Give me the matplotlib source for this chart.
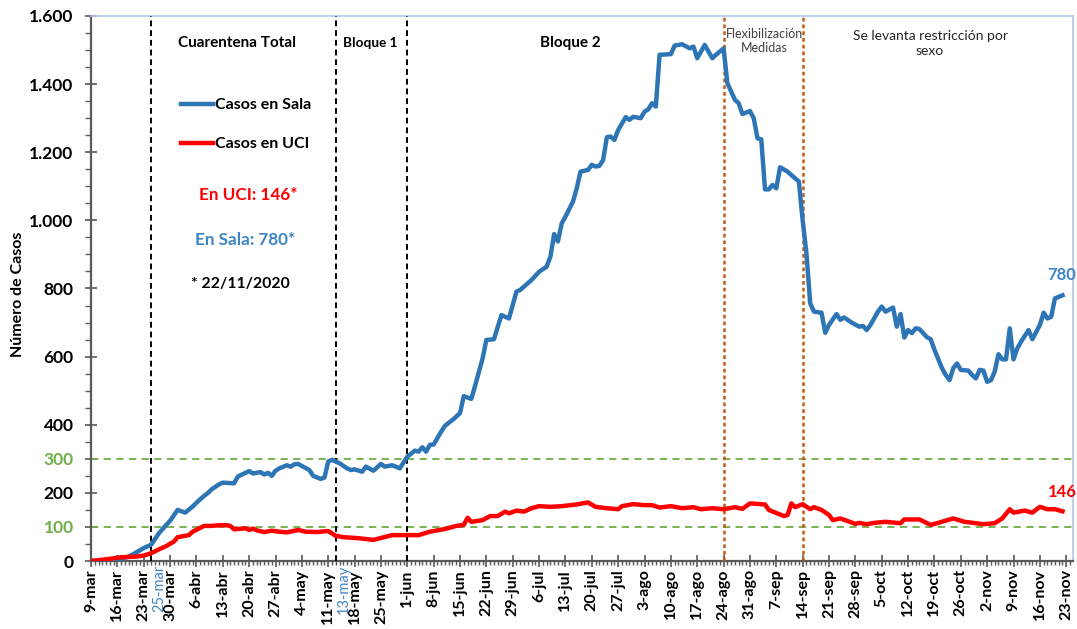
import numpy as np
import pandas as pd
import matplotlib
matplotlib.use('Agg')
import matplotlib.pyplot as plt
import matplotlib.dates as mdates
from matplotlib.ticker import FixedLocator, MultipleLocator

plt.rcParams['font.family'] = ['Lato', 'DejaVu Sans']

# datos (dias desde el 9-mar-2020)
inicio = pd.Timestamp('2020-03-09')
sala_dias = [0, 4, 8, 10, 12, 14, 16, 18, 20, 21, 23, 25, 27, 28, 30, 31, 32, 34, 35, 38, 39, 42, 43, 45, 46, 47, 48, 49,
             50, 52, 53, 54, 55, 56, 58, 59, 61, 62, 63, 64, 66, 68, 69, 70, 72, 73, 75, 77, 78, 80, 82, 84, 86, 87, 88,
             89, 90, 91, 93, 94, 96, 98, 99, 101, 102, 104, 105, 107, 109, 111, 113, 114, 117, 119, 121, 122, 123, 124,
             125, 126, 128, 129, 130, 132, 133, 134, 135, 136, 137, 138, 139, 140, 142, 143, 144, 146, 147, 148, 149,
             150, 151, 154, 155, 157, 159, 160, 161, 163, 165, 166, 168, 169, 171, 172, 173, 175, 176, 177, 178, 179,
             180, 181, 182, 183, 185, 186, 188, 189, 190, 191, 192, 194, 195, 196, 198, 199, 200, 202, 204, 205, 206,
             207, 209, 210, 211, 213, 214, 215, 216, 217, 218, 219, 220, 222, 223, 224, 226, 227, 228, 229, 230, 231,
             233, 234, 235, 236, 237, 238, 239, 240, 241, 242, 243, 244, 245, 246, 247, 248, 249, 250, 252, 253, 254,
             255, 256, 258]
sala_casos = [0, 2, 6, 13, 25, 38, 48, 81, 106, 118, 150, 142, 160, 171, 191, 199, 210, 225, 230, 228, 248, 264, 257,
              261, 254, 259, 250, 265, 272, 281, 277, 284, 285, 279, 267, 250, 241, 245, 292, 297, 287, 272, 267, 269,
              262, 277, 265, 285, 277, 281, 272, 306, 324, 321, 334, 321, 341, 342, 380, 397, 414, 434, 484, 476, 514,
              595, 649, 651, 722, 712, 791, 796, 825, 849, 864, 893, 960, 938, 991, 1011, 1055, 1094, 1143, 1148, 1163,
              1158, 1160, 1177, 1244, 1246, 1236, 1265, 1303, 1295, 1304, 1300, 1319, 1326, 1344, 1334, 1486, 1488,
              1513, 1517, 1505, 1510, 1476, 1515, 1476, 1486, 1505, 1403, 1354, 1344, 1312, 1321, 1300, 1241, 1238,
              1091, 1091, 1104, 1094, 1156, 1143, 1133, 1114, 1000, 903, 757, 732, 729, 670, 693, 725, 708, 715, 700,
              688, 690, 678, 693, 732, 747, 732, 744, 688, 725, 656, 678, 669, 683, 681, 657, 651, 620, 566, 546, 531,
              566, 580, 561, 559, 546, 536, 561, 559, 526, 531, 556, 607, 592, 592, 683, 592, 624, 644, 661, 678, 651,
              693, 729, 712, 717, 771, 780]
uci_dias = [0, 4, 8, 12, 14, 16, 18, 20, 22, 23, 26, 27, 30, 32, 34, 36, 37, 38, 41, 42, 43, 44, 46, 48, 50, 52, 55,
            57, 60, 63, 65, 67, 71, 75, 80, 84, 87, 90, 94, 97, 99, 100, 101, 104, 106, 108, 110, 111, 113, 115, 117,
            119, 122, 125, 129, 132, 134, 137, 140, 141, 144, 147, 149, 151, 154, 157, 160, 162, 165, 168, 171, 173,
            175, 179, 180, 184, 185, 186, 187, 189, 191, 192, 194, 196, 197, 199, 203, 204, 206, 208, 211, 215, 216,
            220, 223, 225, 229, 232, 235, 237, 240, 242, 244, 245, 248, 250, 252, 254, 256, 258]
uci_casos = [0, 5, 11, 13, 16, 23, 34, 44, 57, 70, 76, 86, 103, 103, 105, 105, 103, 93, 96, 91, 95, 90, 85, 89, 86, 84,
             91, 86, 85, 88, 74, 70, 67, 62, 76, 76, 76, 86, 94, 103, 106, 127, 115, 120, 132, 132, 145, 140, 148, 145,
             155, 161, 159, 161, 166, 172, 159, 155, 152, 161, 167, 164, 164, 157, 161, 155, 158, 152, 155, 152, 158,
             153, 169, 166, 150, 132, 135, 169, 158, 167, 152, 158, 150, 135, 120, 125, 109, 112, 108, 112, 115, 111,
             122, 122, 106, 112, 125, 115, 111, 108, 111, 125, 152, 142, 148, 142, 159, 152, 152, 146]

meses = {3: 'mar', 4: 'abr', 5: 'may', 6: 'jun', 7: 'jul', 8: 'ago', 9: 'sep', 10: 'oct', 11: 'nov'}
hitos_negros = ['2020-03-25', '2020-05-13', '2020-06-01']
hitos_naranja = ['2020-08-24', '2020-09-14']
y_ticks = [0, 100, 200, 300, 400, 600, 800, 1000, 1200, 1400, 1600]
y_verdes = [100, 300]

AZUL = '#2E75B6'
ROJO = '#FF0000'
VERDE = '#70AD47'
NARANJA = '#C55A11'

fig = plt.figure(figsize=(10.77, 6.29), dpi=100)
ax = fig.add_axes([0.0845, 0.1081, 0.9118, 0.8665])

x_sala = inicio + pd.to_timedelta(sala_dias, unit='D')
x_uci = inicio + pd.to_timedelta(uci_dias, unit='D')
ax.plot(x_sala, sala_casos, color=AZUL, lw=3.2, solid_joinstyle='round', label='Casos en Sala', zorder=5)
ax.plot(x_uci, uci_casos, color=ROJO, lw=3.2, solid_joinstyle='round', label='Casos en UCI', zorder=5)

for v in y_verdes:
    ax.axhline(v, color=VERDE, lw=1.3, ls=(0, (4, 3)), zorder=2)
for f in hitos_negros:
    ax.axvline(pd.Timestamp(f), color='black', lw=1.4, ls=(0, (3, 2)), zorder=3)
for f in hitos_naranja:
    ax.axvline(pd.Timestamp(f), color=NARANJA, lw=1.8, ls=(0, (1.5, 1.2)), zorder=3)

x0 = mdates.date2num(inicio)
ax.set_xlim(x0, x0 + 260.8)
ax.set_ylim(0, 1600)

semanas = pd.date_range('2020-03-09', '2020-11-23', freq='7D')
ax.xaxis.set_major_locator(FixedLocator(mdates.date2num(semanas)))
ax.set_xticklabels([f'{d.day}-{meses[d.month]}' for d in semanas], rotation=90, fontsize=11.5, fontweight='bold')
ax.xaxis.set_minor_locator(mdates.DayLocator())

ax.set_yticks(y_ticks)
ax.set_yticklabels([f'{v:,}'.replace(',', '.') for v in y_ticks], fontsize=12.5, fontweight='bold')
for lab, v in zip(ax.get_yticklabels(), y_ticks):
    if v in y_verdes:
        lab.set_color(VERDE)
ax.yaxis.set_minor_locator(MultipleLocator(50))

ax.tick_params(axis='x', which='major', direction='inout', length=8, width=1.2, color='#595959', pad=2)
ax.tick_params(axis='x', which='minor', direction='out', length=3, width=1, color='#595959')
ax.tick_params(axis='y', which='major', direction='inout', length=9, width=1.2, color='#595959', pad=8)
ax.tick_params(axis='y', which='minor', direction='out', length=4, width=1, color='#595959')

for s in ['left', 'bottom']:
    ax.spines[s].set_color('#595959')
    ax.spines[s].set_linewidth(1.6)
for s in ['top', 'right']:
    ax.spines[s].set_color('#B4C7E7')
    ax.spines[s].set_linewidth(1.2)

ax.set_ylabel('Número de Casos', fontsize=11.5, fontweight='bold')
ax.yaxis.set_label_coords(-0.067, 0.49)

T = ax.transAxes
def fx(px):
    return (px - 91) / 982
def fy(py):
    return (561 - py) / 545

ax.text(fx(237), fy(43), 'Cuarentena Total', transform=T, ha='center', va='center', fontsize=11, fontweight='bold')
ax.text(fx(370), fy(43), 'Bloque 1', transform=T, ha='center', va='center', fontsize=9.8, fontweight='bold')
ax.text(fx(570), fy(43), 'Bloque 2', transform=T, ha='center', va='center', fontsize=11, fontweight='bold')
ax.text(fx(764), fy(41), 'Flexibilización\nMedidas', transform=T, ha='center', va='center', fontsize=9,
        color='#404040', linespacing=1.15)
ax.text(fx(930), fy(44), 'Se levanta restricción por\nsexo', transform=T, ha='center', va='center', fontsize=10,
        color='#262626', linespacing=1.3)

ax.legend(loc='upper left', bbox_to_anchor=(fx(181), fy(98)), frameon=False, borderaxespad=0, borderpad=0,
          handlelength=2.0, handletextpad=0.15, labelspacing=1.55, prop={'weight': 'bold', 'size': 11.5})

ax.text(fx(248), fy(195), 'En UCI: 146*', transform=T, ha='center', va='center', fontsize=12.3,
        fontweight='bold', color=ROJO)
ax.text(fx(245), fy(240), 'En Sala: 780*', transform=T, ha='center', va='center', fontsize=12.3,
        fontweight='bold', color='#3D85C6')
ax.text(fx(240), fy(284), '* 22/11/2020', transform=T, ha='center', va='center', fontsize=11.3,
        fontweight='bold', color='black')
ax.text(fx(1062), fy(275), '780', transform=T, ha='center', va='center', fontsize=12, fontweight='bold',
        color='#3D85C6', clip_on=False)
ax.text(fx(1062), fy(492), '146', transform=T, ha='center', va='center', fontsize=12, fontweight='bold',
        color=ROJO, clip_on=False)

for f in ['2020-03-25', '2020-05-13']:
    ax.text(pd.Timestamp(f) + pd.Timedelta(hours=6), -12, f'{pd.Timestamp(f).day}-{meses[pd.Timestamp(f).month]}',
            rotation=90, ha='left', va='top', fontsize=10.5, color='#3D85C6', clip_on=False)

fig.savefig('out.png', dpi=100)
